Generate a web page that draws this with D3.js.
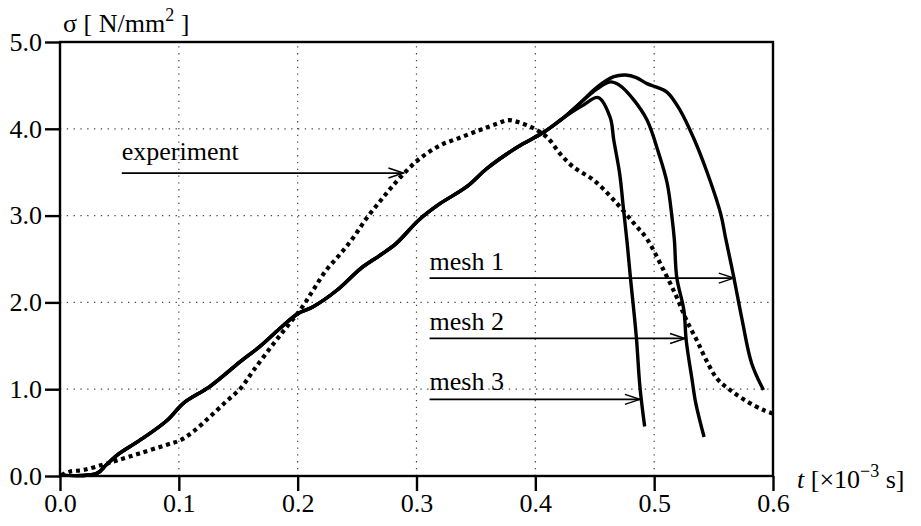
<!DOCTYPE html>
<html>
<head>
<meta charset="utf-8">
<script src="https://cdn.jsdelivr.net/npm/d3@7"></script>
<style>
  body { margin: 0; background: #fff; }
  svg { display: block; }
  text { font-family: "Liberation Serif", "Times New Roman", serif; fill: #000; }
</style>
</head>
<body>
<svg id="chart" width="921" height="526"></svg>
<script>
// ---- data ----
const xTicks = [0.0, 0.1, 0.2, 0.3, 0.4, 0.5, 0.6];
const yTicks = [0.0, 1.0, 2.0, 3.0, 4.0, 5.0];

const experiment = [
  [0.001,0.01],[0.008,0.05],[0.02,0.07],[0.036,0.13],[0.048,0.18],[0.067,0.26],[0.09,0.36],
  [0.101,0.41],[0.112,0.51],[0.126,0.68],[0.14,0.86],[0.152,1.01],[0.163,1.22],[0.18,1.53],
  [0.191,1.72],[0.203,1.93],[0.213,2.14],[0.224,2.37],[0.236,2.56],[0.247,2.75],[0.258,2.97],
  [0.269,3.16],[0.278,3.31],[0.289,3.48],[0.303,3.66],[0.32,3.81],[0.337,3.90],[0.354,3.99],
  [0.368,4.06],[0.377,4.10],[0.387,4.07],[0.398,4.01],[0.41,3.90],[0.421,3.71],[0.432,3.56],
  [0.449,3.41],[0.466,3.18],[0.483,2.91],[0.494,2.73],[0.508,2.37],[0.519,2.06],[0.527,1.80],
  [0.536,1.56],[0.544,1.33],[0.553,1.12],[0.564,0.99],[0.578,0.86],[0.592,0.76],[0.6,0.72]
];

// solid part shared by the three mesh curves
const meshCommon = [
  [0.0,0.01],[0.031,0.03],[0.039,0.13],[0.05,0.26],[0.067,0.41],[0.09,0.64],[0.104,0.84],
  [0.126,1.03],[0.152,1.32],[0.168,1.49],[0.185,1.70],[0.2,1.87],[0.213,1.95],[0.233,2.14],
  [0.253,2.39],[0.269,2.54],[0.283,2.68],[0.302,2.95],[0.32,3.14],[0.342,3.33],[0.359,3.54],
  [0.376,3.71],[0.39,3.83],[0.407,3.96],[0.424,4.13]
];
const mesh1Tail = [
  [0.438,4.30],[0.452,4.48],[0.466,4.60],[0.476,4.62],[0.485,4.59],[0.494,4.52],[0.502,4.48],
  [0.511,4.42],[0.522,4.21],[0.533,3.90],[0.544,3.52],[0.556,3.02],[0.56,2.75],[0.567,2.29],
  [0.574,1.80],[0.582,1.30],[0.592,0.99]
];
const mesh2Tail = [
  [0.438,4.30],[0.452,4.46],[0.463,4.54],[0.471,4.50],[0.483,4.33],[0.494,4.10],[0.504,3.71],
  [0.511,3.37],[0.515,2.98],[0.517,2.72],[0.519,2.29],[0.525,1.91],[0.527,1.56],[0.532,1.10],
  [0.535,0.84],[0.542,0.45]
];
const mesh3Tail = [
  [0.44,4.27],[0.453,4.36],[0.463,4.13],[0.466,3.87],[0.471,3.48],[0.474,3.10],[0.477,2.72],
  [0.48,2.29],[0.485,1.60],[0.488,1.03],[0.492,0.57]
];

// annotation labels: text, text anchor point (x,y) and arrow (from x0 to x1 at y)
const annotations = [
  { label: "experiment", tx: 0.052, ty: 3.64, ay: 3.49, x0: 0.052, x1: 0.289 },
  { label: "mesh 1",     tx: 0.311, ty: 2.37, ay: 2.28, x0: 0.311, x1: 0.567 },
  { label: "mesh 2",     tx: 0.311, ty: 1.68, ay: 1.585, x0: 0.311, x1: 0.526 },
  { label: "mesh 3",     tx: 0.311, ty: 0.99, ay: 0.883, x0: 0.311, x1: 0.488 }
];

// ---- drawing ----
const svg = d3.select("#chart");
const x = d3.scaleLinear().domain([0, 0.6]).range([60, 773]);
const y = d3.scaleLinear().domain([0, 5]).range([476, 42]);
const fs = 26;

// grid
const grid = svg.append("g").attr("stroke", "#444").attr("stroke-width", 1.2)
  .attr("stroke-dasharray", "1.3,5.5");
xTicks.filter(v => v > 0 && v < 0.6).forEach(v => {
  grid.append("line").attr("x1", x(v)).attr("x2", x(v)).attr("y1", y(0)).attr("y2", y(5));
});
yTicks.filter(v => v > 0 && v < 5).forEach(v => {
  grid.append("line").attr("x1", x(0)).attr("x2", x(0.6)).attr("y1", y(v)).attr("y2", y(v));
});

// axes
const xAxis = d3.axisBottom(x).tickValues(xTicks).tickFormat(d3.format(".1f"))
  .tickSizeInner(15).tickSizeOuter(0).tickPadding(3);
const yAxis = d3.axisLeft(y).tickValues(yTicks).tickFormat(d3.format(".1f"))
  .tickSizeInner(15).tickSizeOuter(0).tickPadding(3);

const gx = svg.append("g").attr("transform", `translate(0,${y(0)})`).call(xAxis);
const gy = svg.append("g").attr("transform", `translate(${x(0)},0)`).call(yAxis);
[gx, gy].forEach(g => {
  g.select(".domain").remove();
  g.selectAll(".tick line").attr("stroke", "#000").attr("stroke-width", 2.4);
  g.selectAll(".tick text").style("font-family", '"Liberation Serif", serif')
    .style("font-size", fs + "px").attr("fill", "#000");
});

// frame
svg.append("rect").attr("x", x(0)).attr("y", y(5))
  .attr("width", x(0.6) - x(0)).attr("height", y(0) - y(5))
  .attr("fill", "none").attr("stroke", "#000").attr("stroke-width", 2.4);

// curves
const line = d3.line().x(d => x(d[0])).y(d => y(d[1])).curve(d3.curveCatmullRom.alpha(0.5));
const plot = svg.append("g");
[mesh1Tail, mesh2Tail, mesh3Tail].forEach(tail => {
  plot.append("path").datum(meshCommon.concat(tail)).attr("d", line)
    .attr("fill", "none").attr("stroke", "#000").attr("stroke-width", 3.4)
    .attr("stroke-linejoin", "round");
});
plot.append("path").datum(experiment).attr("d", line)
  .attr("fill", "none").attr("stroke", "#000").attr("stroke-width", 4.2)
  .attr("stroke-dasharray", "4,3.8");

// annotations
const ann = svg.append("g");
annotations.forEach(a => {
  ann.append("text").attr("x", x(a.tx)).attr("y", y(a.ty))
    .style("font-size", fs + "px").text(a.label);
  const yy = y(a.ay), xe = x(a.x1);
  ann.append("line").attr("x1", x(a.x0)).attr("x2", xe).attr("y1", yy).attr("y2", yy)
    .attr("stroke", "#000").attr("stroke-width", 1.7);
  ann.append("path").attr("d", `M${xe - 15},${yy - 5} L${xe},${yy} L${xe - 15},${yy + 5}`)
    .attr("fill", "none").attr("stroke", "#000").attr("stroke-width", 1.5);
});

// axis titles
const yt = svg.append("text").attr("x", 63).attr("y", 32).style("font-size", fs + "px");
yt.append("tspan").text("σ [ N/mm");
yt.append("tspan").attr("dy", -11).style("font-size", "18px").text("2");
yt.append("tspan").attr("dy", 11).text(" ]");

const xt = svg.append("text").attr("x", 797).attr("y", 488).style("font-size", fs + "px");
xt.append("tspan").style("font-style", "italic").text("t");
xt.append("tspan").text(" [×10");
xt.append("tspan").attr("dy", -11).style("font-size", "18px").text("−3");
xt.append("tspan").attr("dy", 11).text(" s]");
</script>
</body>
</html>
